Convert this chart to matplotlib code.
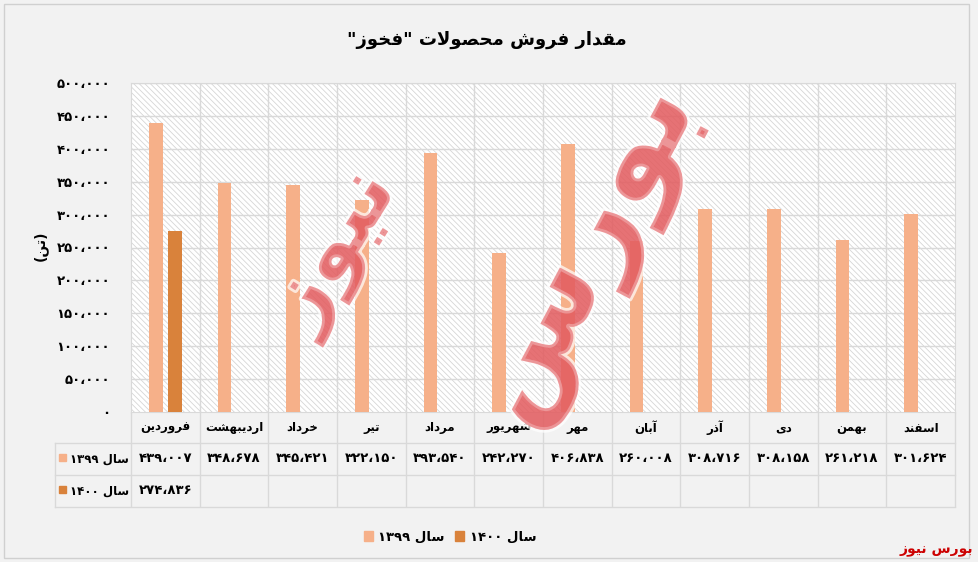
import re

import matplotlib
matplotlib.use("Agg")
import matplotlib.pyplot as plt
import matplotlib.patheffects as pe
import numpy as np
from matplotlib.patches import Rectangle

# ---- data -------------------------------------------------------------
months = ["فروردین", "اردیبهشت", "خرداد", "تیر", "مرداد", "شهریور",
          "مهر", "آبان", "آذر", "دی", "بهمن", "اسفند"]
sales_1399 = [439007, 348678, 345421, 322150, 393540, 242270,
              406838, 260008, 308716, 308158, 261218, 301624]
sales_1400 = [274836, None, None, None, None, None,
              None, None, None, None, None, None]
series_names = ["سال ۱۳۹۹", "سال ۱۴۰۰"]
title = 'مقدار فروش محصولات "فخوز"'
unit_label = "(تن)"
brand = "بورس نیوز"

C_1399 = "#f6b089"
C_1400 = "#d9823b"
GRID = "#d9d9d9"
BG = "#f2f2f2"

# ---- minimal arabic/persian shaping (matplotlib has no RTL layout) ----
FORMS = {
    "ا": ("\ufe8d", "\ufe8e", None, None),
    "آ": ("\ufe81", "\ufe82", None, None),
    "ب": ("\ufe8f", "\ufe90", "\ufe91", "\ufe92"),
    "ت": ("\ufe95", "\ufe96", "\ufe97", "\ufe98"),
    "ح": ("\ufea1", "\ufea2", "\ufea3", "\ufea4"),
    "خ": ("\ufea5", "\ufea6", "\ufea7", "\ufea8"),
    "د": ("\ufea9", "\ufeaa", None, None),
    "ذ": ("\ufeab", "\ufeac", None, None),
    "ر": ("\ufead", "\ufeae", None, None),
    "ز": ("\ufeaf", "\ufeb0", None, None),
    "س": ("\ufeb1", "\ufeb2", "\ufeb3", "\ufeb4"),
    "ش": ("\ufeb5", "\ufeb6", "\ufeb7", "\ufeb8"),
    "ص": ("\ufeb9", "\ufeba", "\ufebb", "\ufebc"),
    "ف": ("\ufed1", "\ufed2", "\ufed3", "\ufed4"),
    "ق": ("\ufed5", "\ufed6", "\ufed7", "\ufed8"),
    "ل": ("\ufedd", "\ufede", "\ufedf", "\ufee0"),
    "م": ("\ufee1", "\ufee2", "\ufee3", "\ufee4"),
    "ن": ("\ufee5", "\ufee6", "\ufee7", "\ufee8"),
    "ه": ("\ufee9", "\ufeea", "\ufeeb", "\ufeec"),
    "و": ("\ufeed", "\ufeee", None, None),
    "ی": ("\ufbfc", "\ufbfd", "\ufbfe", "\ufbff"),
}


def _joins_next(c):
    return c in FORMS and FORMS[c][2] is not None


def shape(s):
    out = []
    i = 0
    n = len(s)
    while i < n:
        c = s[i]
        prev = s[i - 1] if i > 0 else ""
        p = _joins_next(prev)
        if c == "ل" and i + 1 < n and s[i + 1] == "ا":
            out.append("\ufefc" if p else "\ufefb")
            i += 2
            continue
        if c not in FORMS:
            out.append(c)
            i += 1
            continue
        nxt = s[i + 1] if i + 1 < n else ""
        q = nxt in FORMS and _joins_next(c)
        iso, fin, ini, med = FORMS[c]
        if p and q:
            out.append(med)
        elif p:
            out.append(fin)
        elif q:
            out.append(ini)
        else:
            out.append(iso)
        i += 1
    return "".join(out)


def rtl(s):
    parts = re.findall(r"[۰-۹0-9]+(?:[،.][۰-۹0-9]+)*|.", shape(s))
    return "".join(parts[::-1]).translate(str.maketrans("()", ")("))


def fa_num(v):
    return f"{v:,}".translate(str.maketrans("0123456789,", "۰۱۲۳۴۵۶۷۸۹،"))


# ---- figure -----------------------------------------------------------
plt.rcParams["font.family"] = ["DejaVu Sans"]
plt.rcParams["hatch.linewidth"] = 0.6
W, H = 979, 562
fig = plt.figure(figsize=(W / 100, H / 100), dpi=100, facecolor=BG)

L, R, T, B = 131, 955, 83, 412  # plot area in pixels
ax = fig.add_axes([L / W, 1 - B / H, (R - L) / W, (B - T) / H])
ax.set_facecolor("white")
ax.add_patch(Rectangle((0, 0), 1, 1, transform=ax.transAxes, facecolor="white",
                       edgecolor="#d6d6d6", hatch="\\" * 6, lw=0, zorder=0))

x = np.arange(len(months))
w = 0.2
ax.bar(x - 0.14, sales_1399, w, color=C_1399, zorder=3)
v1400 = [v if v is not None else 0 for v in sales_1400]
ax.bar(x + 0.14, v1400, w, color=C_1400, zorder=3)

ax.set_xlim(-0.5, len(months) - 0.5)
ax.set_ylim(0, 500000)
yt = np.arange(0, 500001, 50000)
ax.set_yticks(yt)
ax.set_yticklabels([fa_num(int(v)) for v in yt], fontsize=9.5, fontweight="bold")
ax.tick_params(axis="y", length=0, pad=15)
ax.set_xticks([])
for v in yt[1:]:
    ax.axhline(v, color=GRID, lw=1, zorder=1)
for s in ax.spines.values():
    s.set_color(GRID)

# table below the plot area (pixel rows converted to axes fraction)
ph = B - T


def ay(py):
    return (B - py) / ph


row_cat, row_a, row_b, row_end = 428, 459, 491, 507
xt = ax.get_xaxis_transform()
ax.vlines(x[:-1] + 0.5, ay(row_end), 1, transform=xt, color=GRID, lw=1,
          clip_on=False, zorder=2)
ax.vlines([len(months) - 0.5], ay(row_end), 0, transform=xt, color=GRID, lw=1,
          clip_on=False)
ax.vlines([-0.5], ay(row_end), 0, transform=xt, color=GRID, lw=1, clip_on=False)
for py in (443, 475, 507):
    fig.add_artist(plt.Line2D([55 / W, R / W], [1 - py / H] * 2, color=GRID, lw=1))
fig.add_artist(plt.Line2D([55 / W] * 2, [1 - 443 / H, 1 - 507 / H], color=GRID, lw=1))

for i, m in enumerate(months):
    ax.text(i, ay(row_cat), rtl(m), transform=xt, ha="center", va="center",
            fontsize=8.5, fontweight="bold", clip_on=False)
    ax.text(i, ay(row_a), rtl(fa_num(sales_1399[i])), transform=xt, ha="center",
            va="center", fontsize=9.5, fontweight="bold", clip_on=False)
    if sales_1400[i] is not None:
        ax.text(i, ay(row_b), rtl(fa_num(sales_1400[i])), transform=xt, ha="center",
                va="center", fontsize=9.5, fontweight="bold", clip_on=False)

for name, col, py in zip(series_names, [C_1399, C_1400], [row_a, row_b]):
    fig.add_artist(Rectangle((59 / W, 1 - (py + 2) / H), 7 / W, 7 / H,
                             transform=fig.transFigure, color=col))
    fig.text(70 / W, 1 - py / H, rtl(name), ha="left", va="center",
             fontsize=8.5, fontweight="bold")

# titles and labels
fig.text(487 / W, 1 - 40 / H, rtl(title), ha="center", va="center",
         fontsize=13, fontweight="bold")
fig.text(40 / W, 1 - 246 / H, rtl(unit_label), ha="center", va="center",
         rotation=90, fontsize=10, fontweight="bold")

# legend at the bottom
handles = [Rectangle((0, 0), 1, 1, color=C_1399), Rectangle((0, 0), 1, 1, color=C_1400)]
fig.legend(handles, [rtl(n) for n in series_names], loc="center",
           bbox_to_anchor=(450 / W, 1 - 537 / H), ncol=2, frameon=False,
           handlelength=0.7, handleheight=0.7, handletextpad=0.4, columnspacing=0.8,
           prop={"size": 9.5, "weight": "bold"})

# watermark
glow = [pe.withStroke(linewidth=4, foreground="white", alpha=0.7)]
fig.text(335 / W, 1 - 250 / H, rtl("نیوز"), ha="center", va="center", rotation=58,
         fontsize=62, fontweight="bold", color="#e35d60", alpha=0.55, path_effects=glow)
fig.text(585 / W, 1 - 255 / H, rtl("بورس"), ha="center", va="center", rotation=62,
         fontsize=90, fontweight="bold", color="#e35d60", alpha=0.55, path_effects=glow)

# outer frame and source mark
fig.add_artist(Rectangle((4 / W, 4 / H), (W - 14) / W, (H - 8) / H,
                         transform=fig.transFigure, fill=False, edgecolor="#d0d0d0", lw=1))
fig.text(973 / W, 1 - 550 / H, rtl(brand), ha="right", va="center", fontsize=10,
         fontweight="bold", color="#cc0000")

fig.savefig("out.png", dpi=100, facecolor=BG)
